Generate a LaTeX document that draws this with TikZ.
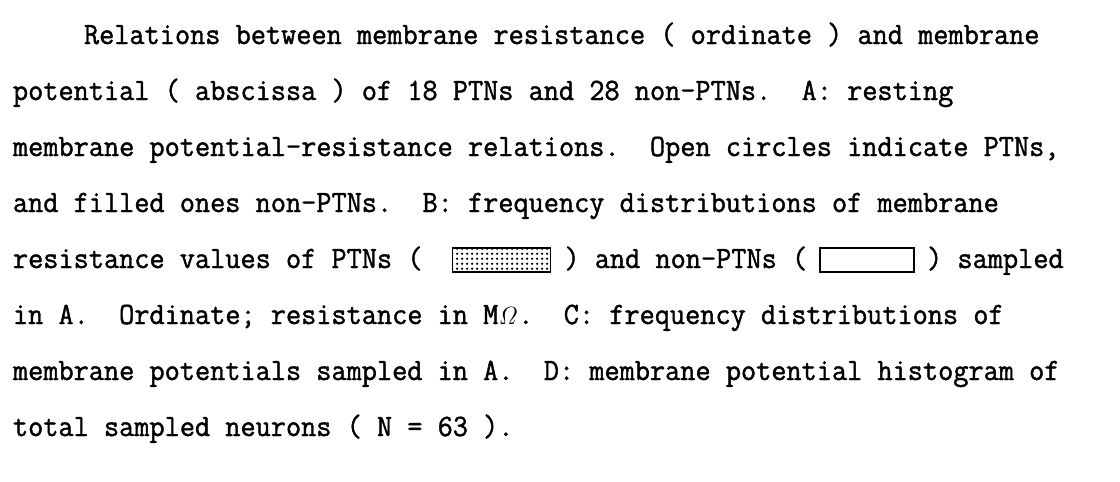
\documentclass[tikz,border=0pt]{standalone}
\usepackage[no-math]{fontspec}
\newfontfamily\tw{Latin Modern Mono}[FakeBold=1.3,FakeStretch=0.95]
\usetikzlibrary{patterns.meta}
\tikzdeclarepattern{
  name=tdots, type=uncolored,
  bounding box={(0pt,0pt) and (4.6pt,4.8pt)},
  tile size={(4.6pt,4.8pt)},
  code={\fill (2.3pt,2.4pt) circle (1.3pt);}
}
\begin{document}
\begin{tikzpicture}[x=1pt,y=-1pt,
  txt/.style={inner sep=0pt, outer sep=0pt, anchor=base west,
    font=\fontsize{31}{33}\tw\frenchspacing},
  keybox/.style={draw=black, line width=1.9pt, inner sep=0pt, outer sep=0pt,
    minimum width=96pt, minimum height=24pt, anchor=south west},
  shaded/.style={keybox, pattern={tdots}, pattern color=black}]
\fill[white] (0,0) rectangle (1120,482);
\path[use as bounding box] (0,0) rectangle (1120,482);
\node[txt] (l1) at (84,44) {Relations between membrane resistance ( ordinate ) and membrane};
\node[txt] (l2) at (13,100) {potential ( abscissa ) of 18 PTNs and 28 non-PTNs.\ \ A: resting};
\node[txt] (l3) at (13,156) {membrane potential-resistance relations.\ \ Open circles indicate PTNs,};
\node[txt] (l4) at (13,212) {and filled ones non-PTNs.\ \ B: frequency distributions of membrane};
\node[txt] (l5a) at (13,268) {resistance values of PTNs (};
\path (l5a.base east) ++(30,4) node[shaded, minimum width=98pt] (b1) {};
\path (b1.east |- l5a.base) ++(14,0) node[txt] (l5b) {) and non-PTNs (};
\path (l5b.base east) ++(13,4) node[keybox, minimum width=94pt] (b2) {};
\path (b2.east |- l5a.base) ++(13,0) node[txt] (l5c) {) sampled};
\node[txt] (l6) at (13,324) {in A.\ \ Ordinate; resistance in M$\mathit{\Omega}$.\ \ C: frequency distributions of};
\node[txt] (l7) at (13,380) {membrane potentials sampled in A.\ \ D: membrane potential histogram of};
\node[txt] (l8) at (13,436) {total sampled neurons ( N = 63 ).};
\end{tikzpicture}
\end{document}
